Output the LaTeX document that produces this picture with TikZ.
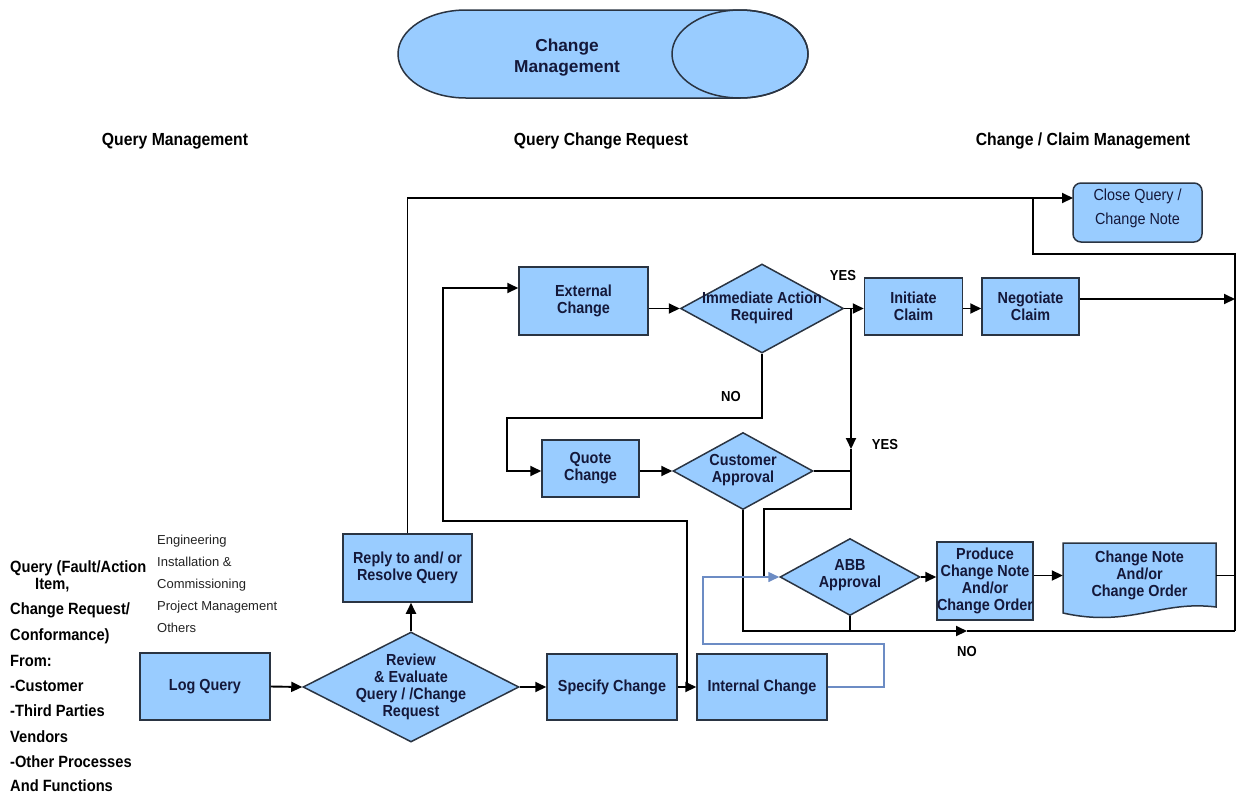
\documentclass[tikz,border=0pt]{standalone}
\usepackage{fontspec}
\setmainfont{Liberation Sans}[FakeStretch=0.9]
\newfontfamily\plainfont{Liberation Sans}
\usetikzlibrary{shapes.geometric,arrows.meta}
\definecolor{boxfill}{HTML}{99CCFF}
\definecolor{boxline}{HTML}{2A3442}
\definecolor{txt}{HTML}{14183A}
\definecolor{bluepath}{HTML}{6C8CC4}
\definecolor{graytxt}{HTML}{222222}
\begin{document}
\begin{tikzpicture}[x=1pt,y=-1pt,
  box/.style={draw=boxline, line width=1.5pt, fill=boxfill, inner sep=0pt, align=center,
    font=\bfseries\fontsize{16}{17}\selectfont, text=txt},
  dia/.style={diamond, draw=boxline, line width=1.5pt, fill=boxfill, inner sep=0pt},
  dtext/.style={align=center, font=\bfseries\fontsize{16}{17}\selectfont, text=txt, inner sep=0pt},
  conn/.style={line width=1.9pt, black},
  arr/.style={conn, -{Triangle[length=11pt,width=10pt]}},
  bluearr/.style={line width=1.5pt, bluepath, -{Triangle[length=11pt,width=10pt]}},
  lbl/.style={font=\bfseries\fontsize{14.5}{16}\selectfont, text=black, inner sep=0pt},
  head/.style={font=\bfseries\fontsize{17.5}{19}\selectfont, text=black, inner sep=0pt},
  lefttxt/.style={anchor=west, font=\bfseries\fontsize{16.3}{17}\selectfont, text=black, inner sep=0pt,
    text height=11.7pt, text depth=3.5pt},
  smalltxt/.style={anchor=west, font=\plainfont\fontsize{13}{14}\selectfont, text=graytxt, inner sep=0pt,
    text height=9.3pt, text depth=2.8pt}
]
\useasboundingbox (0,0) rectangle (1238,793);

% ---------- title cylinder ----------
\draw[boxline, line width=1.5pt, fill=boxfill]
  (466,10) arc[start angle=90, end angle=270, x radius=68pt, y radius=44pt]
  -- (740,98) arc[start angle=-90, end angle=90, x radius=68pt, y radius=44pt] -- cycle;
\draw[boxline, line width=1.5pt] (740,54) ellipse[x radius=68pt, y radius=44pt];
\node[align=center, font=\plainfont\bfseries\fontsize{17.3}{21}\selectfont, text=txt, inner sep=0pt]
  (title) at (567,57.5) {Change\\Management};

% ---------- headings ----------
\node[head] (h1) at (175,141) {Query Management};
\node[head] (h2) at (601,141) {Query Change Request};
\node[head] (h3) at (1083,141) {Change / Claim Management};

% ---------- left text ----------
\node[lefttxt] (q1) at (10,568) {Query (Fault/Action};
\node[lefttxt] (q2) at (35,585) {Item,};
\node[lefttxt] (q3) at (10,610) {Change Request/};
\node[lefttxt] (q4) at (10,636) {Conformance)};
\node[lefttxt] (q5) at (10,662) {From:};
\node[lefttxt] (q6) at (10,687) {-Customer};
\node[lefttxt] (q7) at (10,712) {-Third Parties};
\node[lefttxt] (q8) at (10,738) {Vendors};
\node[lefttxt] (q9) at (10,763) {-Other Processes};
\node[lefttxt] (q10) at (10,787) {And Functions};

\node[smalltxt] (s1) at (157,541) {Engineering};
\node[smalltxt] (s2) at (157,563) {Installation \&};
\node[smalltxt] (s3) at (157,585) {Commissioning};
\node[smalltxt] (s4) at (157,607) {Project Management};
\node[smalltxt] (s5) at (157,629) {Others};

% ---------- boxes ----------
\node[box, minimum width=130pt, minimum height=67pt] (logq) at (205,686.5) {Log Query};
\node[dia, minimum width=216pt, minimum height=110pt] (review) at (411,687) {};
\node[dtext] (reviewt) at (411,686.5) {Review\\\& Evaluate\\Query / /Change\\Request};
\node[box, minimum width=129pt, minimum height=68pt] (reply) at (407.5,568) {Reply to and/ or\\Resolve Query};
\node[box, minimum width=130pt, minimum height=66pt] (spec) at (612,687) {Specify Change};
\node[box, minimum width=130pt, minimum height=66pt] (internal) at (762,687) {Internal Change};

\node[box, minimum width=129pt, minimum height=68pt] (ext) at (583.5,301) {External\\Change};
\node[dia, minimum width=163pt, minimum height=89pt] (iar) at (762,308.5) {};
\node[dtext] (iart) at (762,308) {Immediate Action\\Required};
\node[box, minimum width=98pt, minimum height=57pt] (initiate) at (913.5,306.5) {Initiate\\Claim};
\node[box, minimum width=97pt, minimum height=57pt] (negotiate) at (1030.5,306.5) {Negotiate\\Claim};
\node[box, rounded corners=8pt, minimum width=129pt, minimum height=59pt, text depth=11.5pt,
  font=\fontsize{16}{24}\selectfont] (close) at (1137.5,212.5) {Close Query /\\Change Note};

\node[box, minimum width=97pt, minimum height=57pt] (quote) at (590.5,468.5) {Quote\\Change};
\node[dia, minimum width=140pt, minimum height=77pt] (cust) at (743,471) {};
\node[dtext] (custt) at (743,470) {Customer\\Approval};

\node[dia, minimum width=140pt, minimum height=77pt] (abb) at (850,577) {};
\node[dtext] (abbt) at (850,575) {ABB\\Approval};
\node[box, minimum width=96pt, minimum height=78pt] (produce) at (985,581) {Produce\\Change Note\\And/or\\Change Order};

% document shape
\draw[boxline, line width=1.5pt, fill=boxfill]
  (1063,543) -- (1216,543) -- (1216,607)
  .. controls (1160,600) and (1130,628) .. (1063,613) -- cycle;
\node[dtext, minimum width=153pt, minimum height=65pt] (doc) at (1139.5,575.5) {Change Note\\And/or\\Change Order};

% ---------- coordinates ----------
\coordinate (cqin) at (1073,198);
\coordinate (br1) at (1033,198);
\coordinate (rtop) at (1235,254);
\coordinate (rbot) at (1235,631);
\coordinate (nomid) at (967,631);
\coordinate (jn) at (687,687);
\coordinate (lp1) at (687,521);
\coordinate (lp2) at (443,521);
\coordinate (n1) at (507,418);
\coordinate (yv) at (851,308.5);
\coordinate (yarr) at (851,449);
\coordinate (yb) at (851,509);
\coordinate (ya) at (764,509);
\coordinate (b1) at (884,644);
\coordinate (b2) at (703,644);

% ---------- connectors ----------
\draw[arr] (logq.east) -- (review.west);
\draw[arr] (review.east) -- (spec.west);
\draw[arr] (review.north) -- (review.north |- reply.south);
\draw[arr] (reply.north) |- (cqin);
\draw[conn] (br1) |- (rtop) -- (rbot);
\draw[arr] ([yshift=7.5pt]negotiate.east) -- ([yshift=7.5pt]negotiate.east -| rtop);
\draw[conn] (doc.east) -- (doc.east -| rtop);
\draw[arr] (cust.south) |- (nomid);
\draw[conn] (nomid) -- (rbot);
\draw[conn] (abb.south) -- (abb.south |- nomid);

\draw[arr] (spec.east) -- (internal.west);
\draw[arr] (jn) -- (lp1) -- (lp2) |- ([yshift=13pt]ext.west);
\draw[arr] (iar.west -| ext.east) -- (iar.west);
\draw[arr] (iar.east) -- (iar.east -| initiate.west);
\draw[arr] (iar.east -| initiate.east) -- (iar.east -| negotiate.west);
\draw[arr] (iar.south) |- (n1) |- (quote.west |- cust.west);
\draw[arr] (quote.east |- cust.west) -- (cust.west);
\draw[arr] (yv) -- (yarr);
\draw[conn] (yarr) -- (yb) -- (ya) -- (ya |- abb.west);
\draw[conn] (cust.east) -- (cust.east -| yb);
\draw[bluearr] (internal.east) -| (b1) -- (b2) |- (abb.west);
\draw[arr] (abb.east) -- (abb.east -| produce.west);
\draw[arr] (produce.east |- doc.west) -- (doc.west);

% ---------- labels ----------
\node[lbl] (yes1) at (843,276) {YES};
\node[lbl] (no1) at (731,396) {NO};
\node[lbl] (yes2) at (885,444) {YES};
\node[lbl] (no2) at (967,651) {NO};
\end{tikzpicture}
\end{document}
